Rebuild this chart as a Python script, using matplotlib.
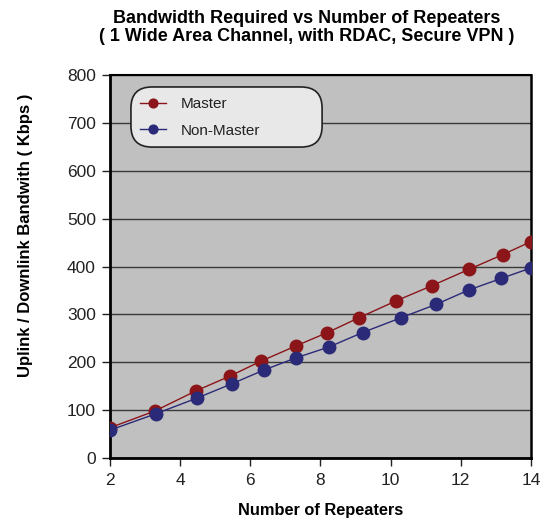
import matplotlib.pyplot as plt
from matplotlib.patches import FancyBboxPatch

plt.rcParams['font.family'] = ['Liberation Sans', 'DejaVu Sans']

# values
master_x = [2.0, 3.28, 4.45, 5.42, 6.3, 7.3, 8.2, 9.1, 10.15, 11.18, 12.23, 13.2, 14.0]
master_y = [63, 98, 140, 171, 202, 234, 262, 293, 328, 360, 394, 425, 452]
nonmaster_x = [2.0, 3.3, 4.48, 5.48, 6.4, 7.3, 8.25, 9.2, 10.3, 11.3, 12.23, 13.15, 14.0]
nonmaster_y = [58, 92, 125, 155, 184, 209, 232, 262, 293, 321, 351, 375, 397]

x_ticks = [2, 4, 6, 8, 10, 12, 14]
y_ticks = [0, 100, 200, 300, 400, 500, 600, 700, 800]

red = '#8b1518'
blue = '#2a2a78'

fig = plt.figure(figsize=(5.44, 5.18), dpi=100)
ax = fig.add_axes([0.202, 0.116, 0.774, 0.739])
ax.set_facecolor('#c0c0c0')

ax.plot(master_x, master_y, color=red, marker='o', markersize=9, linewidth=1,
        label='Master', zorder=3)
ax.plot(nonmaster_x, nonmaster_y, color=blue, marker='o', markersize=9, linewidth=1,
        label='Non-Master', zorder=3)

ax.set_xlim(2, 14)
ax.set_ylim(0, 800)
ax.set_xticks(x_ticks)
ax.set_yticks(y_ticks)
ax.yaxis.grid(True, color='#3a3a3a', linewidth=1)
ax.set_axisbelow(True)

for side in ['left', 'bottom']:
    ax.spines[side].set_linewidth(2)
ax.spines['right'].set_linewidth(1.8)
ax.spines['top'].set_linewidth(1.5)
ax.tick_params(axis='both', direction='out', length=6, width=1, labelsize=12.5,
               colors='#222222')
ax.tick_params(axis='y', pad=4)
ax.tick_params(axis='x', pad=5)

fig.text(0.563, 0.947, 'Bandwidth Required vs Number of Repeaters\n( 1 Wide Area Channel, with RDAC, Secure VPN )',
         ha='center', va='center', fontsize=13, fontweight='bold', linespacing=1.05)
ax.set_xlabel('Number of Repeaters', fontsize=11.8, fontweight='bold', labelpad=11)
ax.set_ylabel('Uplink / Downlink Bandwith ( Kbps )', fontsize=12, fontweight='bold')
ax.yaxis.set_label_coords(-0.182, 0.582)

# rounded legend box drawn by hand (wider than the entries, like the original)
box = FancyBboxPatch((0.05, 0.812), 0.454, 0.157, transform=ax.transAxes,
                     boxstyle='round,pad=0,rounding_size=0.05', mutation_aspect=1.1,
                     facecolor='#e8e8e8', edgecolor='#222222', linewidth=1.2, zorder=4)
ax.add_patch(box)

leg = ax.legend(loc='upper left', bbox_to_anchor=(0.072, 0.942), fontsize=11, markerscale=0.7,
                handlelength=1.7, borderpad=0, labelspacing=0.82, handletextpad=0.95,
                frameon=False, borderaxespad=0)
leg.set_zorder(5)
for t in leg.get_texts():
    t.set_color('#222222')

fig.savefig('out.png', dpi=100)
